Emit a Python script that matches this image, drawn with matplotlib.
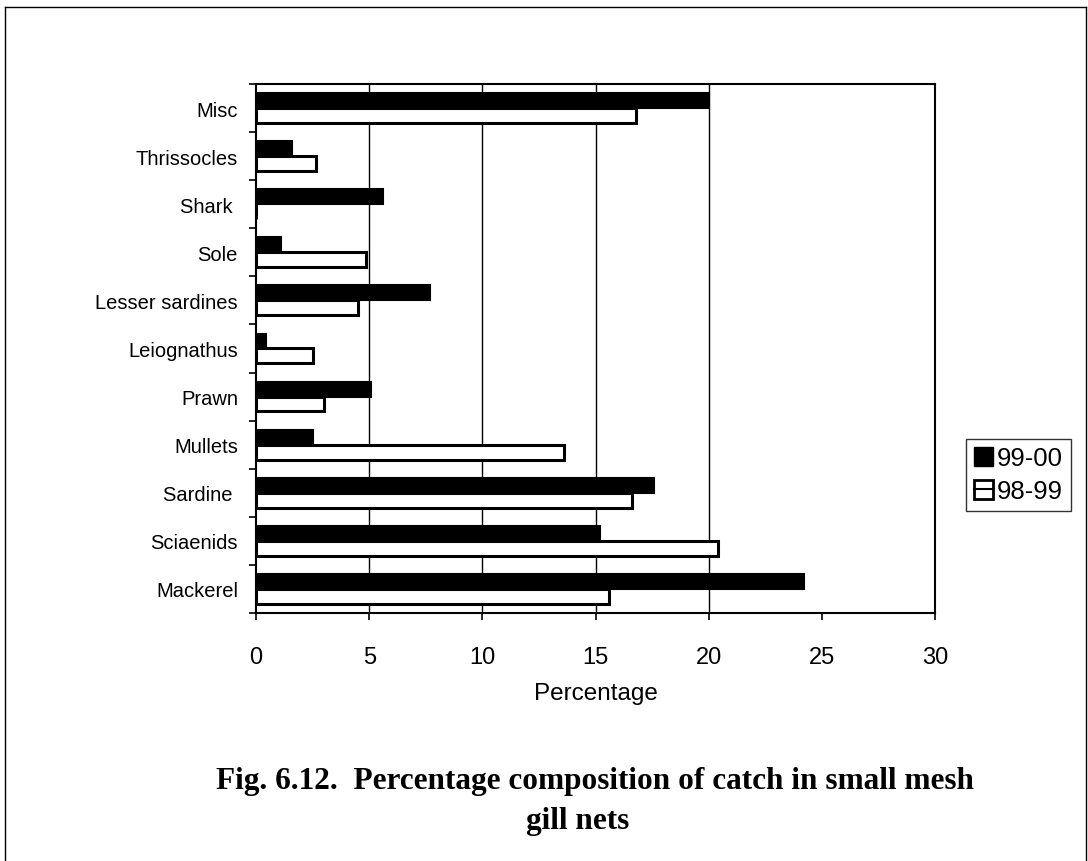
import numpy as np
import matplotlib
matplotlib.use('Agg')
import matplotlib.pyplot as plt
from matplotlib.patches import Rectangle
from matplotlib.lines import Line2D
from matplotlib.legend_handler import HandlerTuple


species = ['Mackerel', 'Sciaenids', 'Sardine ', 'Mullets', 'Prawn', 'Leiognathus',
           'Lesser sardines', 'Sole', 'Shark ', 'Thrissocles', 'Misc']
pct_9900 = [24.2, 15.2, 17.6, 2.5, 5.1, 0.45, 7.7, 1.1, 5.6, 1.6, 20.0]
pct_9899 = [15.6, 20.4, 16.6, 13.6, 3.0, 2.5, 4.5, 4.85, 0.0, 2.65, 16.8]
series_names = ['99-00', '98-99']
x_ticks = [0, 5, 10, 15, 20, 25, 30]
grid_at = [5, 10, 15, 20]

plt.rcParams['font.family'] = ['Liberation Sans', 'DejaVu Sans']

fig = plt.figure(figsize=(10.88, 8.62), dpi=100)
ax = fig.add_axes([0.2353, 0.2877, 0.6241, 0.6137])

y = np.arange(len(species))
h = 0.31
ax.barh(y + h / 2, pct_9900, height=h, color='black', edgecolor='black', linewidth=1.5, zorder=3)
ax.barh(y - h / 2, pct_9899, height=h, color='white', edgecolor='black', linewidth=2.2, zorder=3)

for g in grid_at:
    ax.axvline(g, color='black', linewidth=1.0, zorder=1)

ax.set_xlim(0, 30)
ax.set_ylim(-0.5, len(species) - 0.5)
ax.set_xticks(x_ticks)
ax.set_xticklabels([str(t) for t in x_ticks])
ax.set_yticks(y)
ax.set_yticklabels(species)
ax.set_yticks(np.arange(len(species) + 1) - 0.5, minor=True)
ax.tick_params(axis='y', which='major', length=0, pad=13, labelsize=14.5)
ax.tick_params(axis='y', which='minor', length=5, width=1.2, direction='out')
ax.tick_params(axis='x', length=5, width=1.2, direction='out', pad=19, labelsize=17)
for s in ax.spines.values():
    s.set_linewidth(1.5)
ax.set_xlabel('Percentage', fontsize=17.5, labelpad=10)

# legend: solid swatch and an open swatch with a rule across it
solid = Rectangle((0, 0), 1, 1, facecolor='black', edgecolor='black')
open_box = Rectangle((0, 0), 1, 1, facecolor='white', edgecolor='black', linewidth=2)
rule = Line2D([], [], color='black', linewidth=1.5)
leg = fig.legend([solid, (open_box, rule)], series_names, loc='upper left',
                 bbox_to_anchor=(0.888, 0.49), fontsize=18.5, frameon=True,
                 fancybox=False, edgecolor='black',
                 handler_map={tuple: HandlerTuple(ndivide=1, pad=0)},
                 handlelength=0.75, handleheight=0.75, handletextpad=0.15,
                 borderpad=0.3, labelspacing=0.35, borderaxespad=0)
leg.get_frame().set_linewidth(1.0)

title_kw = dict(ha='center', va='center', fontsize=22.5, fontweight='bold',
                family='Liberation Serif')
fig.text(0.547, 1 - 782 / 862, 'Fig. 6.12.  Percentage composition of catch in small mesh', **title_kw)
fig.text(0.531, 1 - 822 / 862, 'gill nets', **title_kw)

# page frame around the figure
for xs, ys in [((0.005, 0.005), (0.0, 0.991)), ((0.005, 0.998), (0.991, 0.991)),
               ((0.998, 0.998), (0.0, 0.991))]:
    fig.add_artist(Line2D(xs, ys, color='black', linewidth=1.0))

fig.savefig('out.png', dpi=100)
